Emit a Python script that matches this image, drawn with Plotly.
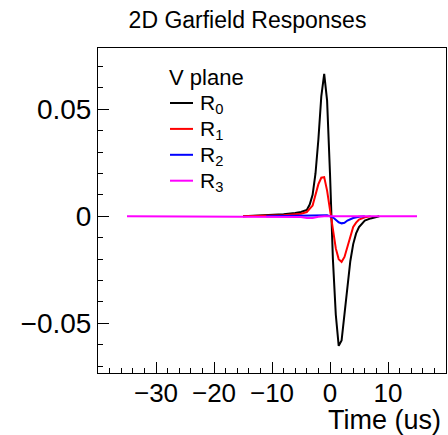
import plotly.graph_objects as go

# time (us) and response values
t_r0 = [-15, -12, -10, -8, -6, -5, -4, -3.5, -3, -2.5, -2, -1.5, -1, -0.5, 0, 0.5,
        1, 1.5, 2, 2.5, 3, 3.5, 4, 4.5, 5, 6, 7, 8.5]
r0 = [0.0, 0.0003, 0.0006, 0.001, 0.0015, 0.002, 0.003, 0.0055, 0.01, 0.02, 0.036,
      0.056, 0.0665, 0.054, 0.02, -0.02, -0.046, -0.0605, -0.058, -0.046, -0.032,
      -0.021, -0.013, -0.008, -0.005, -0.002, -0.001, 0.0]

t_r1 = [-15, -8, -5, -4, -3, -2.5, -2, -1.5, -1, -0.5, 0, 0.5, 1, 1.5, 2, 2.5, 3,
        3.5, 4, 4.5, 5, 6, 7]
r1 = [0.0, 0.0005, 0.0012, 0.002, 0.005, 0.01, 0.015, 0.018, 0.0183, 0.012, 0.003,
      -0.006, -0.015, -0.02, -0.0213, -0.019, -0.014, -0.009, -0.005, -0.003,
      -0.0015, -0.0005, 0.0]

t_r2 = [-11, -5, -2, -0.5, 0.5, 1, 1.5, 2, 2.5, 3, 4, 5, 6]
r2 = [0.0, 0.0002, 0.0004, 0.0005, -0.0005, -0.0015, -0.0028, -0.0033, -0.003,
      -0.002, -0.0008, -0.0002, 0.0]

t_r3 = [-35, -6, -5, -4, -3, -2, -1, 15]
r3 = [0.0, 0.0, -0.0003, -0.0008, -0.0008, -0.0002, 0.0, 0.0]

names = ["R<sub>0</sub>", "R<sub>1</sub>", "R<sub>2</sub>", "R<sub>3</sub>"]
colors = ["black", "red", "blue", "magenta"]
xticks = [-30, -20, -10, 0, 10]

font = "Liberation Sans"

W, H = 448, 435
# frame position on screen
L, R, T, B = 98, 446, 48, 373


def px(x):
    return (x - L) / (R - L)


def py(y):
    return (B - y) / (B - T)


fig = go.Figure()
for tt, vv, nm, c in zip([t_r0, t_r1, t_r2, t_r3], [r0, r1, r2, r3], names, colors):
    fig.add_trace(go.Scatter(x=tt, y=vv, mode="lines", name=nm,
                             line=dict(color=c, width=2), showlegend=False))

fig.update_layout(
    width=W, height=H,
    margin=dict(l=L, r=W - R, t=T, b=H - B),
    paper_bgcolor="white", plot_bgcolor="white",
    font=dict(family=font, color="black"),
    title=dict(text="2D Garfield Responses", x=px(247.5), xref="paper",
               xanchor="center", y=1 - 20 / H, yanchor="middle",
               font=dict(size=23)),
)
fig.update_xaxes(range=[-40, 20], showgrid=False, zeroline=False,
                 showline=True, mirror=True, linecolor="black", linewidth=1,
                 ticks="inside", ticklen=11, tickcolor="black", tickvals=xticks,
                 tickfont=dict(size=26), ticklabelstandoff=-3,
                 minor=dict(ticks="inside", ticklen=5, dtick=2, tickcolor="black"))
fig.update_yaxes(range=[-0.0732, 0.0786], showgrid=False, zeroline=False,
                 showline=True, mirror=True, linecolor="black", linewidth=1,
                 ticks="inside", ticklen=11, tickcolor="black", dtick=0.05,
                 tickfont=dict(size=28),
                 minor=dict(ticks="inside", ticklen=5, dtick=0.01, tickcolor="black"))
fig.add_annotation(text="Time (us)", xref="paper", yref="paper", x=px(443),
                   y=py(420), xanchor="right", yanchor="middle", showarrow=False,
                   font=dict(size=27))

# legend drawn by hand to match the short ROOT-style keys
fig.add_annotation(text="V plane", xref="paper", yref="paper", x=px(167),
                   y=py(77), xanchor="left", yanchor="middle", showarrow=False,
                   font=dict(size=22))
for i, (nm, c) in enumerate(zip(names, colors)):
    ly = 103 + i * 25.9
    fig.add_shape(type="line", xref="paper", yref="paper", x0=px(170), x1=px(193),
                  y0=py(ly), y1=py(ly), line=dict(color=c, width=2))
    fig.add_annotation(text=nm, xref="paper", yref="paper", x=px(198),
                       y=py(ly + 1), xanchor="left", yanchor="middle",
                       showarrow=False, font=dict(size=21))

# drop the default 8px body margin so the figure fills the window exactly
fig.write_html("out.html", config={"displayModeBar": False},
               post_script="document.body.style.margin='0';")
